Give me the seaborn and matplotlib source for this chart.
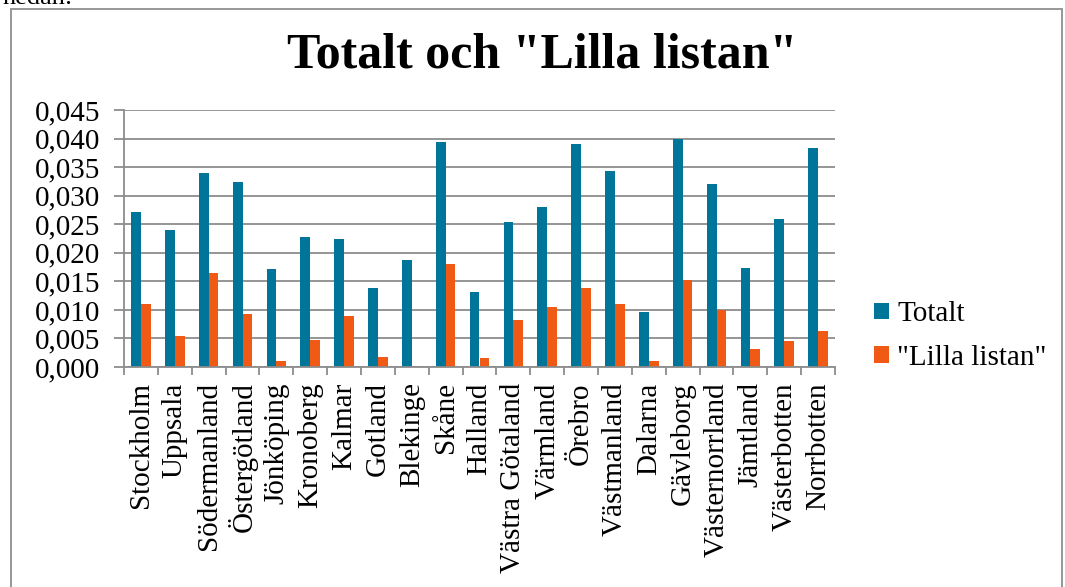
import numpy as np
import pandas as pd
import matplotlib
matplotlib.use("Agg")
import matplotlib.pyplot as plt
import seaborn as sns
from matplotlib.ticker import FuncFormatter, FixedLocator
from matplotlib.patches import Rectangle, Patch

lan = ["Stockholm", "Uppsala", "Södermanland", "Östergötland", "Jönköping",
       "Kronoberg", "Kalmar", "Gotland", "Blekinge", "Skåne", "Halland",
       "Västra Götaland", "Värmland", "Örebro", "Västmanland", "Dalarna",
       "Gävleborg", "Västernorrland", "Jämtland", "Västerbotten", "Norrbotten"]
totalt = [0.0271, 0.0240, 0.0339, 0.0324, 0.0171, 0.0228, 0.0225, 0.0139,
          0.0188, 0.0394, 0.0132, 0.0254, 0.0280, 0.0390, 0.0344, 0.0097,
          0.0400, 0.0321, 0.0173, 0.0259, 0.0384]
lilla = [0.0110, 0.0054, 0.0164, 0.0092, 0.0011, 0.0048, 0.0089, 0.0017,
         0.0000, 0.0180, 0.0016, 0.0083, 0.0105, 0.0139, 0.0110, 0.0010,
         0.0153, 0.0099, 0.0031, 0.0046, 0.0063]
series_names = ["Totalt", "\"Lilla listan\""]
yticks = [0.000, 0.005, 0.010, 0.015, 0.020, 0.025, 0.030, 0.035, 0.040, 0.045]

n = len(lan)

df = pd.DataFrame({
    "Län": lan * 2,
    "Värde": totalt + lilla,
    "Serie": [series_names[0]] * n + [series_names[1]] * n,
})

blue = "#00759A"
orange = "#F05A14"
grid_c = "#8c8c8c"

sns.set_theme(style="white")
plt.rcParams["font.family"] = ["Liberation Serif", "DejaVu Serif"]
plt.rcParams["text.color"] = "black"
plt.rcParams["xtick.color"] = "black"
plt.rcParams["ytick.color"] = "black"

fig = plt.figure(figsize=(10.65, 5.87), dpi=100)
ax = fig.add_axes([124/1065, 1-367/587, (835-124)/1065, (367-110)/587])

sns.barplot(data=df, x="Län", y="Värde", hue="Serie", palette=[blue, orange],
            width=0.58, saturation=1, ax=ax, legend=False, linewidth=0)

ax.set_ylim(0, 0.045)
ax.set_xlim(-0.5, n - 0.5)
ax.set_yticks(yticks)
ax.yaxis.set_major_formatter(FuncFormatter(lambda v, p: f"{v:.3f}".replace(".", ",")))
ax.grid(axis="y", color=grid_c, linewidth=1.3)
ax.set_axisbelow(True)
for s in ["top", "right"]:
    ax.spines[s].set_visible(False)
for s in ["left", "bottom"]:
    ax.spines[s].set_color(grid_c)
    ax.spines[s].set_linewidth(1.3)

ax.set_xlabel("")
ax.set_ylabel("")
ax.set_xticks(range(n))
ax.set_xticklabels(lan, rotation=90, fontsize=21)
ax.tick_params(axis="x", which="major", length=0, pad=11)
ax.xaxis.set_minor_locator(FixedLocator([i + 0.5 for i in range(-1, n)]))
ax.tick_params(axis="x", which="minor", bottom=True, length=6, width=1.3, color=grid_c)
ax.tick_params(axis="y", which="major", left=True, length=7, width=1.3, color=grid_c,
               labelsize=21, pad=10, labelcolor="black")
ax.tick_params(axis="x", labelcolor="black")

# Title
fig.text(542/1065, 1-56/587, "Totalt och \"Lilla listan\"", ha="center", va="center",
         fontsize=36, fontweight="bold", color="black")

# Legend
handles = [Patch(facecolor=blue, edgecolor="none"), Patch(facecolor=orange, edgecolor="none")]
leg = fig.legend(handles, series_names, loc="center left",
                 bbox_to_anchor=(874/1065, 1-336/587), frameon=False, fontsize=21,
                 handlelength=0.5, handleheight=0.5, handletextpad=0.3, labelspacing=0.6,
                 borderaxespad=0, borderpad=0)
for t in leg.get_texts():
    t.set_color("black")

# Chart frame and surrounding document text
fig.patches.append(Rectangle((11/1065, -0.05), (1062-11)/1065, 1.05 - 9/587,
                             transform=fig.transFigure, fill=False,
                             edgecolor="#8f8f8f", linewidth=1.3))
fig.text(2/1065, 1-4/587, "nedan:", ha="left", va="baseline", fontsize=19)

fig.savefig("out.png", dpi=100)
